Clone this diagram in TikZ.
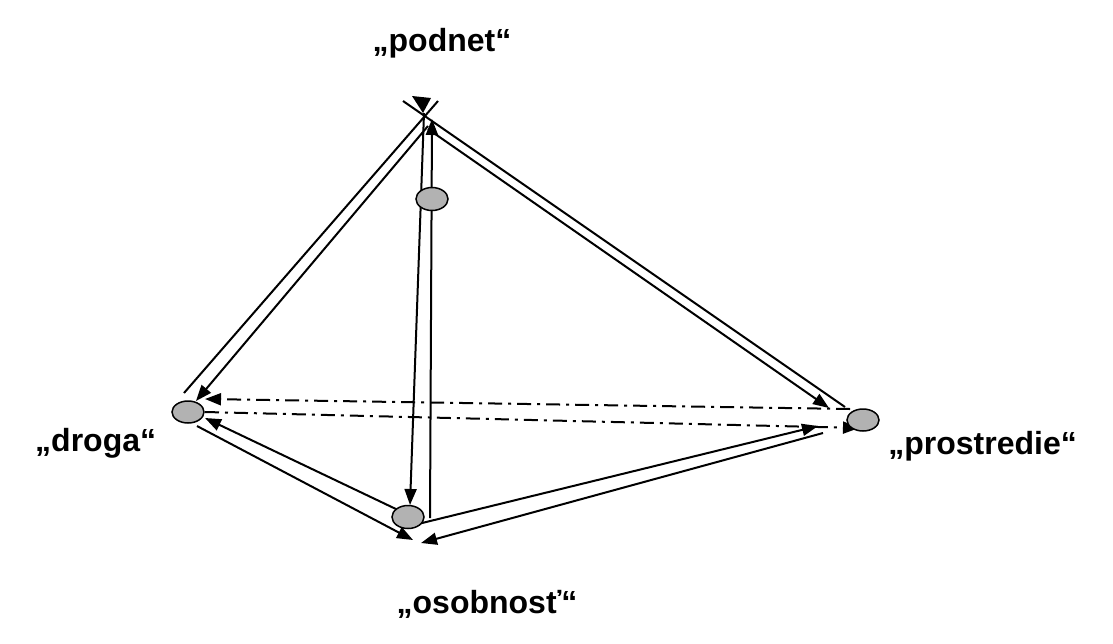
\documentclass[tikz,border=0pt]{standalone}
\usepackage{fontspec}
\setmainfont{Liberation Sans}
\usetikzlibrary{arrows.meta,shapes.geometric}

\tikzset{
  vertex/.style={ellipse, draw=black, line width=1.5pt, fill=black!30,
                 minimum width=32pt, minimum height=23pt, inner sep=0pt},
  edge/.style={line width=2pt, black},
  arr/.style={edge, -{Triangle[length=16pt,width=12pt]}},
  dashdot/.style={line width=2pt, dash pattern=on 14pt off 6pt on 3pt off 6pt,
                  -{Triangle[length=16pt,width=12pt]}},
  lbl/.style={font=\fontsize{32}{38}\selectfont\bfseries, inner sep=0pt}
}

\begin{document}
\begin{tikzpicture}[x=1pt,y=-1pt]
\useasboundingbox (0,0) rectangle (1113,643);

% labels
\node[lbl, anchor=base] (lp) at (442,51) {„podnet“};
\node[lbl, anchor=base west] (ld) at (35,451) {„droga“};
\node[lbl, anchor=base east] (lr) at (1077,454) {„prostredie“};
\node[lbl, anchor=base] (lo) at (487,613) {„osobnosť“};

% end points of the double edges
\coordinate (apexR) at (403,101);
\coordinate (apexL) at (438,101);
\coordinate (apexIL) at (428,126);
\coordinate (apexIR) at (428,129);
\coordinate (apexA) at (424,113);
\coordinate (apexB) at (432,119);
\coordinate (dOut) at (184,393);
\coordinate (dIn)  at (196,401);
\coordinate (pOut) at (845,407);
\coordinate (pIn)  at (829,408);
\coordinate (oA)   at (410,505);
\coordinate (oB)   at (430,518);
\coordinate (oDL)  at (398,510);
\coordinate (dL)   at (205,418);
\coordinate (dL2)  at (197,426);
\coordinate (oDL2) at (413,540);
\coordinate (oPU)  at (418,524);
\coordinate (pU)   at (818,426);
\coordinate (pL)   at (823,433);
\coordinate (oPL)  at (421,543);
\coordinate (dDa)  at (205,399);
\coordinate (pDa)  at (850,409);
\coordinate (dDb)  at (205,412);
\coordinate (pDb)  at (859,428);

% podnet -- droga
\draw[edge] (apexL) -- (dOut);
\draw[arr]  (apexIL) -- (dIn);
% podnet -- prostredie
\draw[edge] (apexR) -- (pOut);
\draw[arr]  (apexIR) -- (pIn);
% podnet -- osobnost
\draw[arr]  (apexA) -- (oA);
\draw[arr]  (oB) -- (apexB);
% droga -- osobnost
\draw[arr]  (oDL) -- (dL);
\draw[arr]  (dL2) -- (oDL2);
% osobnost -- prostredie
\draw[arr]  (oPU) -- (pU);
\draw[arr]  (pL) -- (oPL);
% droga -- prostredie
\draw[dashdot] (pDa) -- (dDa);
\draw[dashdot] (dDb) -- (pDb);

% filled tip where the edges meet at the top
\fill (412,96) -- (431,98) -- (423,113) -- cycle;

% the four points
\node[vertex] (T) at (432,199) {};
\node[vertex, minimum height=22pt] (D) at (188,412) {};
\node[vertex] (O) at (408,517) {};
\node[vertex, minimum height=22pt] (P) at (863,420) {};
\end{tikzpicture}
\end{document}
